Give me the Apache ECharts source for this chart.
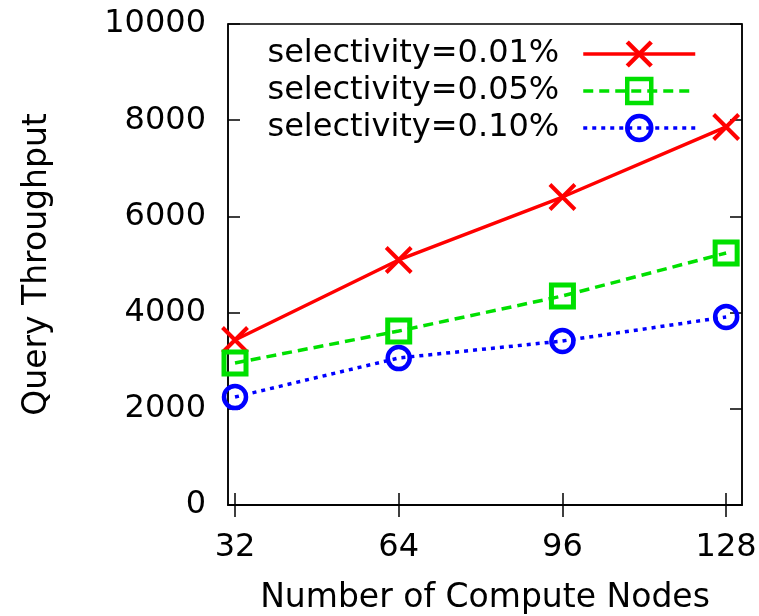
<!DOCTYPE html>
<html>
<head>
<meta charset="utf-8">
<script src="https://cdn.jsdelivr.net/npm/echarts@6/dist/echarts.min.js"></script>
<style>html,body{margin:0;padding:0;background:#fff;}#c{width:759px;height:616px;}</style>
</head>
<body>
<div id="c"></div>
<script>
const nodes = [32, 64, 96, 128];
const xTicks = [32, 64, 96, 128];
const yTicks = [0, 2000, 4000, 6000, 8000, 10000];
const seriesNames = ['selectivity=0.01%', 'selectivity=0.05%', 'selectivity=0.10%'];
const sel001 = [3430, 5094, 6403, 7859];
const sel005 = [2952, 3617, 4345, 5239];
const sel010 = [2245, 3056, 3410, 3909];

const FONT = 'DejaVu Sans';
const chart = echarts.init(document.getElementById('c'), null, {renderer: 'canvas'});
const pairs = v => nodes.map((n, i) => [n, v[i]]);
const axisCommon = {
  axisLine: {show: true, lineStyle: {color: '#000', width: 1.5}},
  axisTick: {show: true, inside: true, length: 12, lineStyle: {color: '#000', width: 1.5}},
  splitLine: {show: false}
};
chart.setOption({
  animation: false,
  backgroundColor: '#fff',
  grid: {left: 228, right: 17, top: 24, bottom: 111, show: true, borderColor: '#000', borderWidth: 1.5,
         containLabel: false, outerBoundsMode: 'none'},
  xAxis: [
    Object.assign({}, axisCommon, {
      type: 'value', min: 30.63, max: 131.1, position: 'bottom',
      name: 'Number of Compute Nodes', nameLocation: 'middle', nameGap: 77,
      nameTextStyle: {fontFamily: FONT, fontSize: 33, color: '#000'},
      axisTick: Object.assign({}, axisCommon.axisTick, {customValues: xTicks}),
      axisLabel: {customValues: xTicks, fontFamily: FONT, fontSize: 32, color: '#000', margin: 27}
    }),
    Object.assign({}, axisCommon, {
      type: 'value', min: 30.63, max: 131.1, position: 'top',
      axisTick: Object.assign({}, axisCommon.axisTick, {customValues: xTicks}),
      axisLabel: {show: false}
    })
  ],
  yAxis: [
    Object.assign({}, axisCommon, {
      type: 'value', min: 0, max: 10000, interval: 2000, position: 'left',
      name: 'Query Throughput', nameLocation: 'middle', nameGap: 174, nameRotate: 90,
      nameTextStyle: {fontFamily: FONT, fontSize: 33, color: '#000'},
      axisLabel: {fontFamily: FONT, fontSize: 32, color: '#000', margin: 22,
        formatter: v => yTicks.indexOf(v) >= 0 ? String(v) : ''}
    }),
    Object.assign({}, axisCommon, {
      type: 'value', min: 0, max: 10000, interval: 2000, position: 'right',
      axisLabel: {show: false}
    })
  ],
  legend: {
    orient: 'vertical', align: 'right', right: 62, top: 38, padding: 0,
    itemWidth: 112, itemHeight: 30, itemGap: 5,
    lineStyle: {width: 3.5},
    itemStyle: {borderWidth: 4.5},
    textStyle: {fontFamily: FONT, fontSize: 32, color: '#000', padding: [0, 19, 0, 0]},
    data: seriesNames
  },
  series: [
    {name: seriesNames[0], type: 'line', data: pairs(sel001),
     symbol: 'path://M0,0L20,20M20,0L0,20', symbolSize: 25,
     lineStyle: {color: '#ff0000', width: 3.5, type: 'solid'},
     itemStyle: {color: '#ff0000', borderColor: '#ff0000', borderWidth: 4}},
    {name: seriesNames[1], type: 'line', data: pairs(sel005),
     symbol: 'rect', symbolSize: 22,
     lineStyle: {color: '#00e000', width: 3.5, type: [10, 6]},
     itemStyle: {color: 'rgba(0,0,0,0)', borderColor: '#00e000', borderWidth: 5}},
    {name: seriesNames[2], type: 'line', data: pairs(sel010),
     symbol: 'circle', symbolSize: 22,
     lineStyle: {color: '#0000ff', width: 3.5, type: [4, 5]},
     itemStyle: {color: 'rgba(0,0,0,0)', borderColor: '#0000ff', borderWidth: 4.5}}
  ]
});
</script>
</body>
</html>
